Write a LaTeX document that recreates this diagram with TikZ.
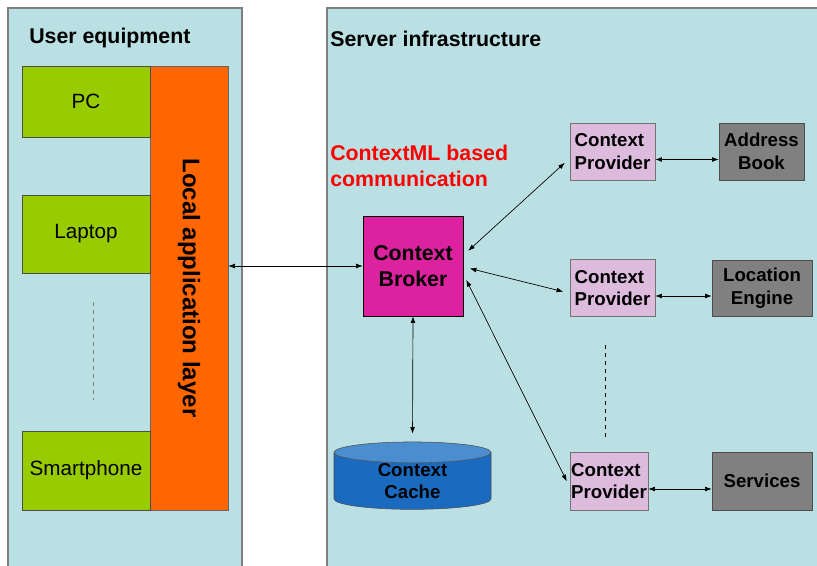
\documentclass[tikz,border=0pt]{standalone}
\usepackage{fontspec}
\setmainfont{Liberation Sans}
\usetikzlibrary{shapes.geometric, arrows.meta}
\definecolor{panelcyan}{HTML}{BBE0E3}
\definecolor{panelgray}{HTML}{7F7F7F}
\definecolor{devicegreen}{HTML}{99CC00}
\definecolor{layerorange}{HTML}{FF6600}
\definecolor{brokermagenta}{HTML}{DD22A0}
\definecolor{providerlilac}{HTML}{DDBBDD}
\definecolor{sourcegray}{HTML}{808080}
\definecolor{cacheblue}{HTML}{1A6BBF}
\definecolor{cachetop}{HTML}{4A8ED0}

\begin{document}
\begin{tikzpicture}[x=0.75pt, y=-0.75pt, >={Latex[length=5pt,width=3.6pt]}]
\tikzstyle{panel} = [fill=panelcyan, draw=panelgray, line width=1.2pt]
\tikzstyle{title} = [anchor=west, inner sep=0pt, font=\bfseries\fontsize{16}{18}\selectfont]
\tikzstyle{device} = [rectangle, minimum width=96pt, text centered, draw=black!70, fill=devicegreen, inner sep=0pt, font=\fontsize{15.5}{18}\selectfont]
\tikzstyle{provider} = [rectangle, minimum width=63.75pt, minimum height=42.75pt, align=left, draw=black!55, fill=providerlilac, inner sep=0pt, font=\bfseries\fontsize{14}{17}\selectfont]
\tikzstyle{source} = [rectangle, minimum width=75pt, minimum height=42.75pt, align=center, draw=black!70, fill=sourcegray, inner sep=0pt, font=\bfseries\fontsize{14}{17}\selectfont]
\tikzstyle{link} = [<->, black, line width=0.5pt]

\clip (0,0) rectangle (817,566);
\fill[white] (0,0) rectangle (817,566);

% panels
\draw[panel] (8,8) rectangle (242,580);
\draw[panel] (327,8) rectangle (830,580);
\node (usertitle) [title] at (29,38) {User equipment};
\node (servertitle) [title] at (330,39) {Server infrastructure};

% user side
\node (layer) [rectangle, rotate=-90, minimum width=333pt, minimum height=58.5pt, draw=black!60, fill=layerorange, inner sep=0pt, font=\bfseries\fontsize{18}{21}\selectfont] at (189,288) {Local application layer};
\node (pc) [device, minimum height=53.25pt] at (86,101.5) {PC};
\node (laptop) [device, minimum height=58.5pt] at (86,234) {Laptop};
\node (phone) [device, minimum height=59.25pt] at (86,470.5) {Smartphone};
\draw[dashed, panelgray] (93,302) -- (93,400);

% server side
\node (protocol) [anchor=north west, inner sep=0pt, align=left, text=red, font=\bfseries\fontsize{16}{19.5}\selectfont] at (330,145) {ContextML based\\communication};
\node (broker) [rectangle, minimum width=75pt, minimum height=75pt, align=center, draw=black, fill=brokermagenta, inner sep=0pt, font=\bfseries\fontsize{16}{19.5}\selectfont] at (413,266) {Context\\Broker};
\node (cache) [cylinder, shape border rotate=90, aspect=0.3, minimum width=117.75pt, minimum height=48.75pt, draw=black!70, cylinder uses custom fill, cylinder body fill=cacheblue, cylinder end fill=cachetop, align=center, inner sep=0pt, font=\bfseries\fontsize{14}{17}\selectfont] at (412.5,481) {Context\\Cache};

\node (cp1) [provider] at (612.5,151.5) {Context\\Provider};
\node (cp2) [provider] at (612.5,288) {Context\\Provider};
\node (cp3) [provider, minimum width=58.5pt, minimum height=43.5pt] at (609,481) {Context\\Provider};
\node (book) [source, minimum width=63.75pt] at (761.5,151.5) {Address\\Book};
\node (locate) [source, minimum height=42pt] at (762,288) {Location\\Engine};
\node (services) [source, minimum height=43.5pt] at (762,481) {Services};
\draw[dashed] (605,345) -- (605,437);

% connectors
\draw[link] (layer.north |- broker.west) -- (broker.west);
\draw[link, shorten >=6pt] (broker.south) -- (cache.north);
\draw[link, shorten <=5pt, shorten >=5pt] (broker.12) -- (cp1.-171);
\draw[link, shorten <=5pt, shorten >=5pt] (broker.-1) -- (cp2.-173);
\draw[link, shorten <=5pt, shorten >=5pt] (broker.-9) -- (cp3.-171);
\draw[link] ([yshift=-6pt]cp1.east) -- ([yshift=-6pt]book.west);
\draw[link] ([yshift=-6pt]cp2.east) -- ([yshift=-6pt]locate.west);
\draw[link] ([yshift=-6pt]cp3.east) -- ([yshift=-6pt]services.west);

\end{tikzpicture}
\end{document}
